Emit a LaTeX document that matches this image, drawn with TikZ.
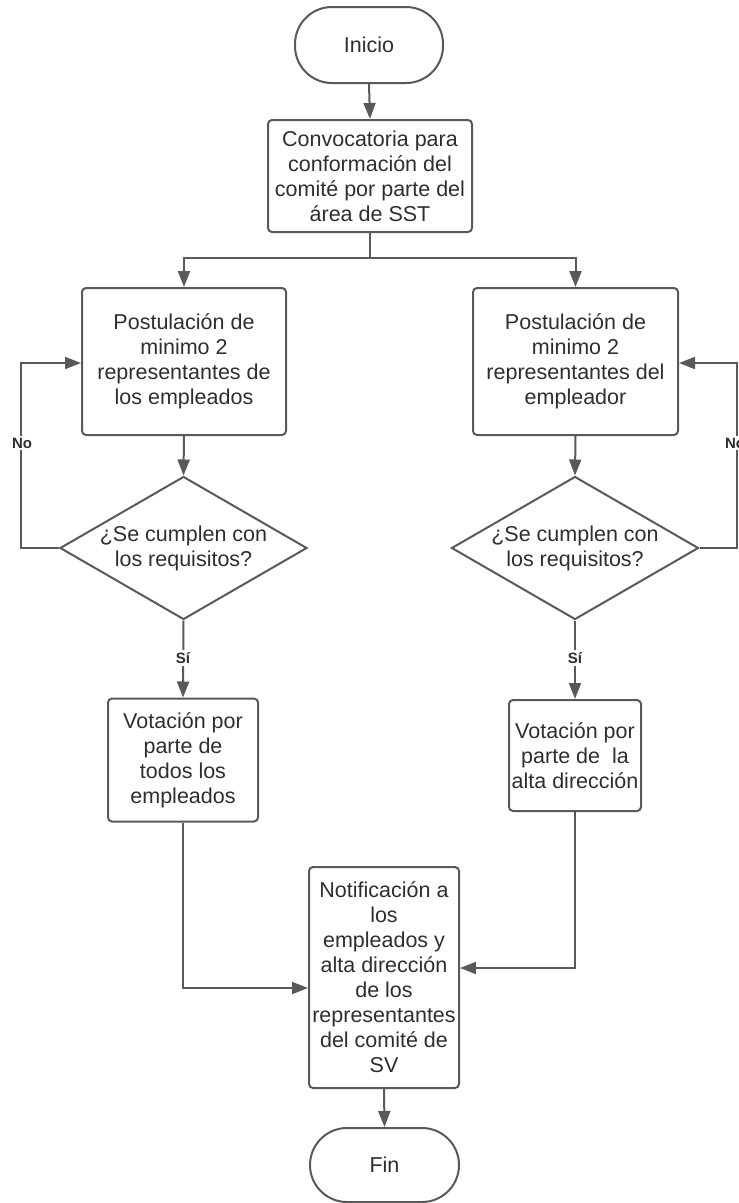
\documentclass[tikz,border=0pt]{standalone}
\usepackage{fontspec}
\setmainfont{Liberation Sans}
\usetikzlibrary{shapes.geometric,arrows.meta}
\definecolor{ln}{HTML}{595959}
\definecolor{tx}{HTML}{2E2E2E}
\begin{document}
\begin{tikzpicture}[x=1pt,y=-1pt,
  base/.style={draw=ln,line width=2pt,text=tx,align=center,inner sep=2pt,
    font=\fontsize{21.5}{25}\selectfont},
  box/.style={base,rectangle,rounded corners=4pt},
  term/.style={base,rectangle,rounded corners=37pt},
  dec/.style={base,diamond,minimum width=247pt,minimum height=143pt,inner sep=0pt},
  dectext/.style={text=tx,align=center,font=\fontsize{21.5}{25}\selectfont},
  arr/.style={draw=ln,line width=2pt,-{Triangle[length=16pt,width=12pt]}},
  lbl/.style={fill=white,text=tx,font=\fontsize{15}{17}\selectfont\bfseries,inner sep=2pt}]
\useasboundingbox (0,0) rectangle (739,1203);
\node[term,minimum width=148pt,minimum height=76pt] (inicio) at (369,45) {Inicio};
\node[box,minimum width=204pt,minimum height=112pt] (conv) at (370,176)
  {Convocatoria para\\conformación del\\comité por parte del\\área de SST};
\node[box,minimum width=204pt,minimum height=147pt] (post1) at (184,361.5)
  {Postulación de\\minimo 2\\representantes de\\los empleados};
\node[box,minimum width=205pt,minimum height=147pt] (post2) at (575.5,361.5)
  {Postulación de\\minimo 2\\representantes del\\empleador};
\node[dec,label={[dectext]center:{¿Se cumplen con\\los requisitos?}}] (d1) at (183.5,548) {};
\node[dec,label={[dectext]center:{¿Se cumplen con\\los requisitos?}}] (d2) at (575,548) {};
\node[box,minimum width=150pt,minimum height=123pt] (vot1) at (183,760)
  {Votación por\\parte de\\todos los\\empleados};
\node[box,minimum width=132pt,minimum height=111pt] (vot2) at (575,755.5)
  {Votación por\\parte de\ \ la\\alta dirección};
\node[box,minimum width=150pt,minimum height=221pt] (notif) at (384,977.5)
  {Notificación a\\los\\empleados y\\alta dirección\\de los\\representantes\\del comité de\\SV};
\node[term,minimum width=149pt,minimum height=74pt] (fin) at (384.5,1165) {Fin};

\coordinate (split) at (370,258);
\draw[arr] (inicio.south) -- (conv.north);
\draw[draw=ln,line width=2pt] (conv.south) -- (split);
\draw[arr] (split) -| (post1.north);
\draw[arr] (split) -| (post2.north);
\draw[arr] (post1.south) -- (d1.north);
\draw[arr] (post2.south) -- (d2.north);
\draw[arr] (d1.west) -- ++(-38,0) |- ([yshift=-1.5pt]post1.west);
\draw[arr] (d2.east) -- ++(37,0) |- ([yshift=-1.5pt]post2.east);
\node[lbl] (no1) at (22,443) {No};
\node[lbl] (no2) at (735,443) {No};
\draw[arr] (d1.south) -- (vot1.north);
\draw[arr] (d2.south) -- (vot2.north);
\node[lbl] (si1) at (183,658) {Sí};
\node[lbl] (si2) at (575,658) {Sí};
\draw[arr] (vot1.south) |- ([yshift=-10.5pt]notif.west);
\draw[arr] (vot2.south) |- ([yshift=9.5pt]notif.east);
\draw[arr] (notif.south) -- (fin.north);
\end{tikzpicture}
\end{document}
